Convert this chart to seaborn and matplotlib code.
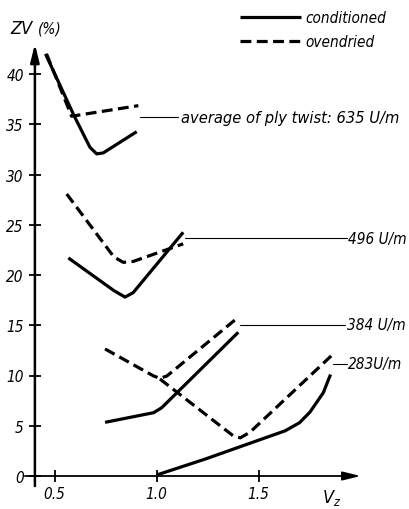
import numpy as np
import pandas as pd
import matplotlib
matplotlib.use("Agg")
import matplotlib.pyplot as plt
from matplotlib.lines import Line2D
import seaborn as sns

# ---------------- data ----------------
twist_labels = ["635", "496", "384", "283"]

vz_635_cond = [0.455, 0.595, 0.673, 0.706, 0.738, 0.902]
zv_635_cond = [42.0, 35.85, 32.7, 32.05, 32.15, 34.26]
vz_635_oven = [0.46, 0.583, 0.91]
zv_635_oven = [42.0, 35.8, 36.85]

vz_496_cond = [0.567, 0.79, 0.845, 0.885, 1.13]
zv_496_cond = [21.7, 18.45, 17.8, 18.25, 24.25]
vz_496_oven = [0.559, 0.79, 0.836, 0.885, 1.13]
zv_496_oven = [28.06, 21.8, 21.26, 21.35, 23.1]

vz_384_cond = [0.747, 0.985, 1.025, 1.40]
zv_384_cond = [5.34, 6.3, 6.8, 14.3]
vz_384_oven = [0.747, 0.985, 1.016, 1.05, 1.40]
zv_384_oven = [12.64, 9.95, 9.72, 9.95, 15.8]

vz_283_cond = [1.0, 1.24, 1.63, 1.70, 1.751, 1.817, 1.852]
zv_283_cond = [0.1, 1.7, 4.5, 5.3, 6.35, 8.3, 10.1]
vz_283_oven = [1.016, 1.375, 1.41, 1.457, 1.858]
zv_283_oven = [9.65, 4.0, 3.8, 4.35, 12.0]

label_texts = ["average of ply twist: 635 U/m", "496 U/m", "384 U/m", "283U/m"]
label_y = [35.7, 23.65, 15.05, 11.15]

x_ticks = [0.5, 1.0, 1.5]
x_ticklabels = ["0.5", "1.0", "1.5"]
y_ticks = [0, 5, 10, 15, 20, 25, 30, 35, 40]

# ---------------- long table ----------------
series = {
    ("635", "conditioned"): (vz_635_cond, zv_635_cond),
    ("635", "ovendried"): (vz_635_oven, zv_635_oven),
    ("496", "conditioned"): (vz_496_cond, zv_496_cond),
    ("496", "ovendried"): (vz_496_oven, zv_496_oven),
    ("384", "conditioned"): (vz_384_cond, zv_384_cond),
    ("384", "ovendried"): (vz_384_oven, zv_384_oven),
    ("283", "conditioned"): (vz_283_cond, zv_283_cond),
    ("283", "ovendried"): (vz_283_oven, zv_283_oven),
}
rows = []
for (tw, cond), (xs, ys) in series.items():
    for i, (x, y) in enumerate(zip(xs, ys)):
        rows.append({"twist": tw, "state": cond, "unit": tw + cond, "Vz": x, "ZV": y, "i": i})
df = pd.DataFrame(rows)

# ---------------- style ----------------
sns.set_theme(style="white")
plt.rcParams["font.family"] = ["DejaVu Sans"]
plt.rcParams["font.style"] = "italic"
plt.rcParams["font.stretch"] = "condensed"
plt.rcParams["text.color"] = "black"
plt.rcParams["axes.labelcolor"] = "black"
plt.rcParams["xtick.color"] = "black"
plt.rcParams["ytick.color"] = "black"

W, H = 410, 510
fig = plt.figure(figsize=(W / 100, H / 100), dpi=100)

def px2fig_x(px):
    return px / W

def px2fig_y(py):
    return 1 - py / H

# axes placed so that x 0.354..2.0 spans px 25..360, y -1..43 spans 487..45
ax = fig.add_axes([px2fig_x(24.9), px2fig_y(487.05), (360.7 - 24.9) / W, (487.05 - 44.85) / H])
ax.set_xlim(0.354, 2.0)
ax.set_ylim(-1.0, 43.0)

LW = 2.3
DASH = (3.4, 1.7)
sns.lineplot(data=df, x="Vz", y="ZV", units="unit", style="state",
             estimator=None, sort=False, color="black", linewidth=LW,
             dashes={"conditioned": "", "ovendried": DASH},
             style_order=["conditioned", "ovendried"], legend=False, ax=ax)
for ln in ax.get_lines():
    ln.set_solid_capstyle("butt")
    ln.set_dash_capstyle("butt")
    ln.set_solid_joinstyle("round")
    ln.set_clip_on(False)

# ---------------- axes as arrows ----------------
y_axis_x = 0.403
for s in ax.spines.values():
    s.set_visible(False)
ax.spines["left"].set_position(("data", y_axis_x))
ax.spines["bottom"].set_position(("data", 0.0))
ax.annotate("", xy=(y_axis_x, 1.0), xytext=(y_axis_x, 0.0),
            xycoords=ax.get_xaxis_transform(), textcoords=ax.get_xaxis_transform(),
            arrowprops=dict(arrowstyle="-|>,head_length=0.9,head_width=0.22",
                            lw=1.8, color="black", shrinkA=0, shrinkB=0))
ax.annotate("", xy=(1.0, 0.0), xytext=(0.0, 0.0),
            xycoords=ax.get_yaxis_transform(), textcoords=ax.get_yaxis_transform(),
            arrowprops=dict(arrowstyle="-|>,head_length=0.9,head_width=0.22",
                            lw=1.3, color="black", shrinkA=0, shrinkB=0))

ax.set_xticks(x_ticks)
ax.set_xticklabels(x_ticklabels)
ax.set_yticks(y_ticks)
ax.set_yticklabels([str(v) for v in y_ticks])
ax.tick_params(axis="both", direction="inout", length=8, width=1.3, color="black",
               labelsize=11, labelcolor="black", left=True, bottom=True)
ax.tick_params(axis="y", pad=4)
ax.tick_params(axis="x", pad=3)
for t in ax.get_xticklabels() + ax.get_yticklabels():
    t.set_fontstyle("italic")
ax.set_xlabel("")
ax.set_ylabel("")
ax.grid(False)

# ---------------- curve labels with leader lines ----------------
series_end = [max(vz_635_cond + vz_635_oven), max(vz_496_cond + vz_496_oven),
              max(vz_384_cond + vz_384_oven), max(vz_283_cond + vz_283_oven)]
label_x = [1.119, 1.937, 1.932, 1.937]
leader_end = [1.104, 1.931, 1.923, 1.933]
label_size = [11.8, 11, 11, 11]
for txt, ly, xe, lx, le, fs in zip(label_texts, label_y, series_end, label_x, leader_end, label_size):
    ax.plot([xe + 0.008, le], [ly, ly], color="black", lw=0.8, clip_on=False)
    ax.text(lx, ly, txt, ha="left", va="center", fontsize=fs, fontstyle="italic",
            color="black", clip_on=False)

# ---------------- legend ----------------
handles = [Line2D([], [], color="black", lw=LW, solid_capstyle="butt"),
           Line2D([], [], color="black", lw=LW, dashes=DASH, dash_capstyle="butt")]
leg = ax.legend(handles, ["conditioned", "ovendried"], loc="upper left",
                bbox_to_anchor=(px2fig_x(240), px2fig_y(11)), bbox_transform=fig.transFigure,
                frameon=False, handlelength=4.0, handletextpad=0.25, labelspacing=0.6,
                borderpad=0, borderaxespad=0, fontsize=11)
for t in leg.get_texts():
    t.set_fontstyle("italic")
    t.set_color("black")

# ---------------- axis titles ----------------
fig.text(px2fig_x(10), px2fig_y(34), "ZV", fontsize=13, fontstyle="italic",
         ha="left", va="baseline", color="black")
fig.text(px2fig_x(38), px2fig_y(34), "(%)", fontsize=11, fontstyle="italic",
         ha="left", va="baseline", color="black")
fig.text(px2fig_x(322), px2fig_y(503), r"$V_z$", fontsize=13, ha="left", va="baseline",
         color="black")

fig.savefig("out.png", dpi=100)
